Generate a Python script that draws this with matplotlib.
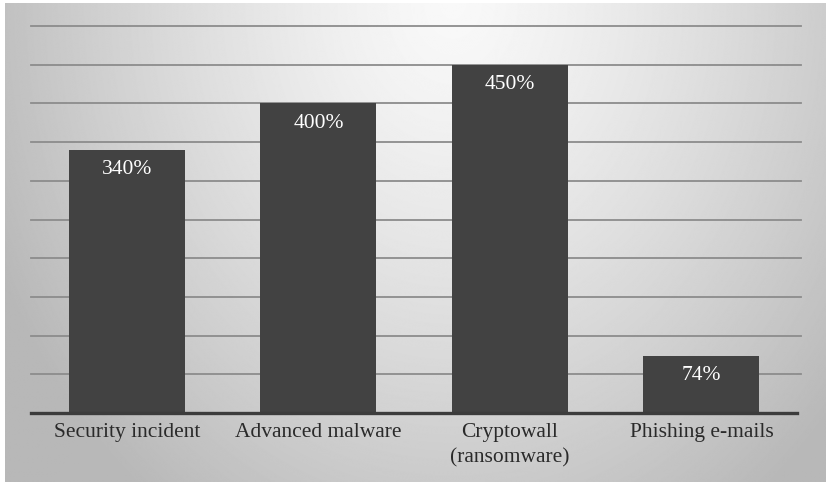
import numpy as np
import matplotlib
matplotlib.use("Agg")
import matplotlib.pyplot as plt

# Growth figures per threat category
categories = ["Security incident", "Advanced malware", "Cryptowall\n(ransomware)", "Phishing e-mails"]
values = [340, 400, 450, 74]
value_labels = ["340%", "400%", "450%", "74%"]
grid_ticks = list(range(50, 501, 50))

W, H = 826, 483
fig = plt.figure(figsize=(W / 100, H / 100), dpi=100)
fig.patch.set_facecolor("white")

# Soft radial grey backdrop, brightest near the top centre
bg = fig.add_axes([5 / W, 1 / H, 1 - 5 / W, 1 - 4 / H])
yy, xx = np.mgrid[0:H, 0:W]
r = np.sqrt(((xx - 450) / 420.0) ** 2 + (yy / 520.0) ** 2)
shade = np.clip(0.975 - 0.2 * r ** 1.3, 0.72, 0.98)
bg.imshow(shade, cmap="gray", vmin=0, vmax=1, aspect="auto", interpolation="bilinear")
bg.set_axis_off()

ax = fig.add_axes([31 / W, (H - 413) / H, 770 / W, 387 / H])
ax.set_facecolor("none")
x = np.arange(len(categories))

for g in grid_ticks:
    ax.axhline(g, color="#8c8c8c", lw=1.3, zorder=1, clip_on=False)

ax.bar(x, values, width=0.606, color="#424242", zorder=2)
ax.axhline(0, xmax=0.995, color="#3c3c3c", lw=2.4, zorder=3, clip_on=False)

serif = ["Liberation Serif", "DejaVu Serif"]
for xi, v, lab in zip(x, values, value_labels):
    ax.annotate(lab, (xi, v), xytext=(0, -14.5), textcoords="offset points",
                ha="center", va="center", color="white", fontsize=15.5,
                family=serif, zorder=4)

ax.set_xlim(-0.501, 3.52)
ax.set_ylim(0, 500)
ax.set_xticks(x)
ax.set_xticklabels(categories, fontsize=15.5, family=serif, color="#2a2a2a",
                   linespacing=1.45)
ax.tick_params(axis="x", length=0, pad=7)
ax.set_yticks([])
for s in ax.spines.values():
    s.set_visible(False)

fig.savefig("out.png", dpi=100)
